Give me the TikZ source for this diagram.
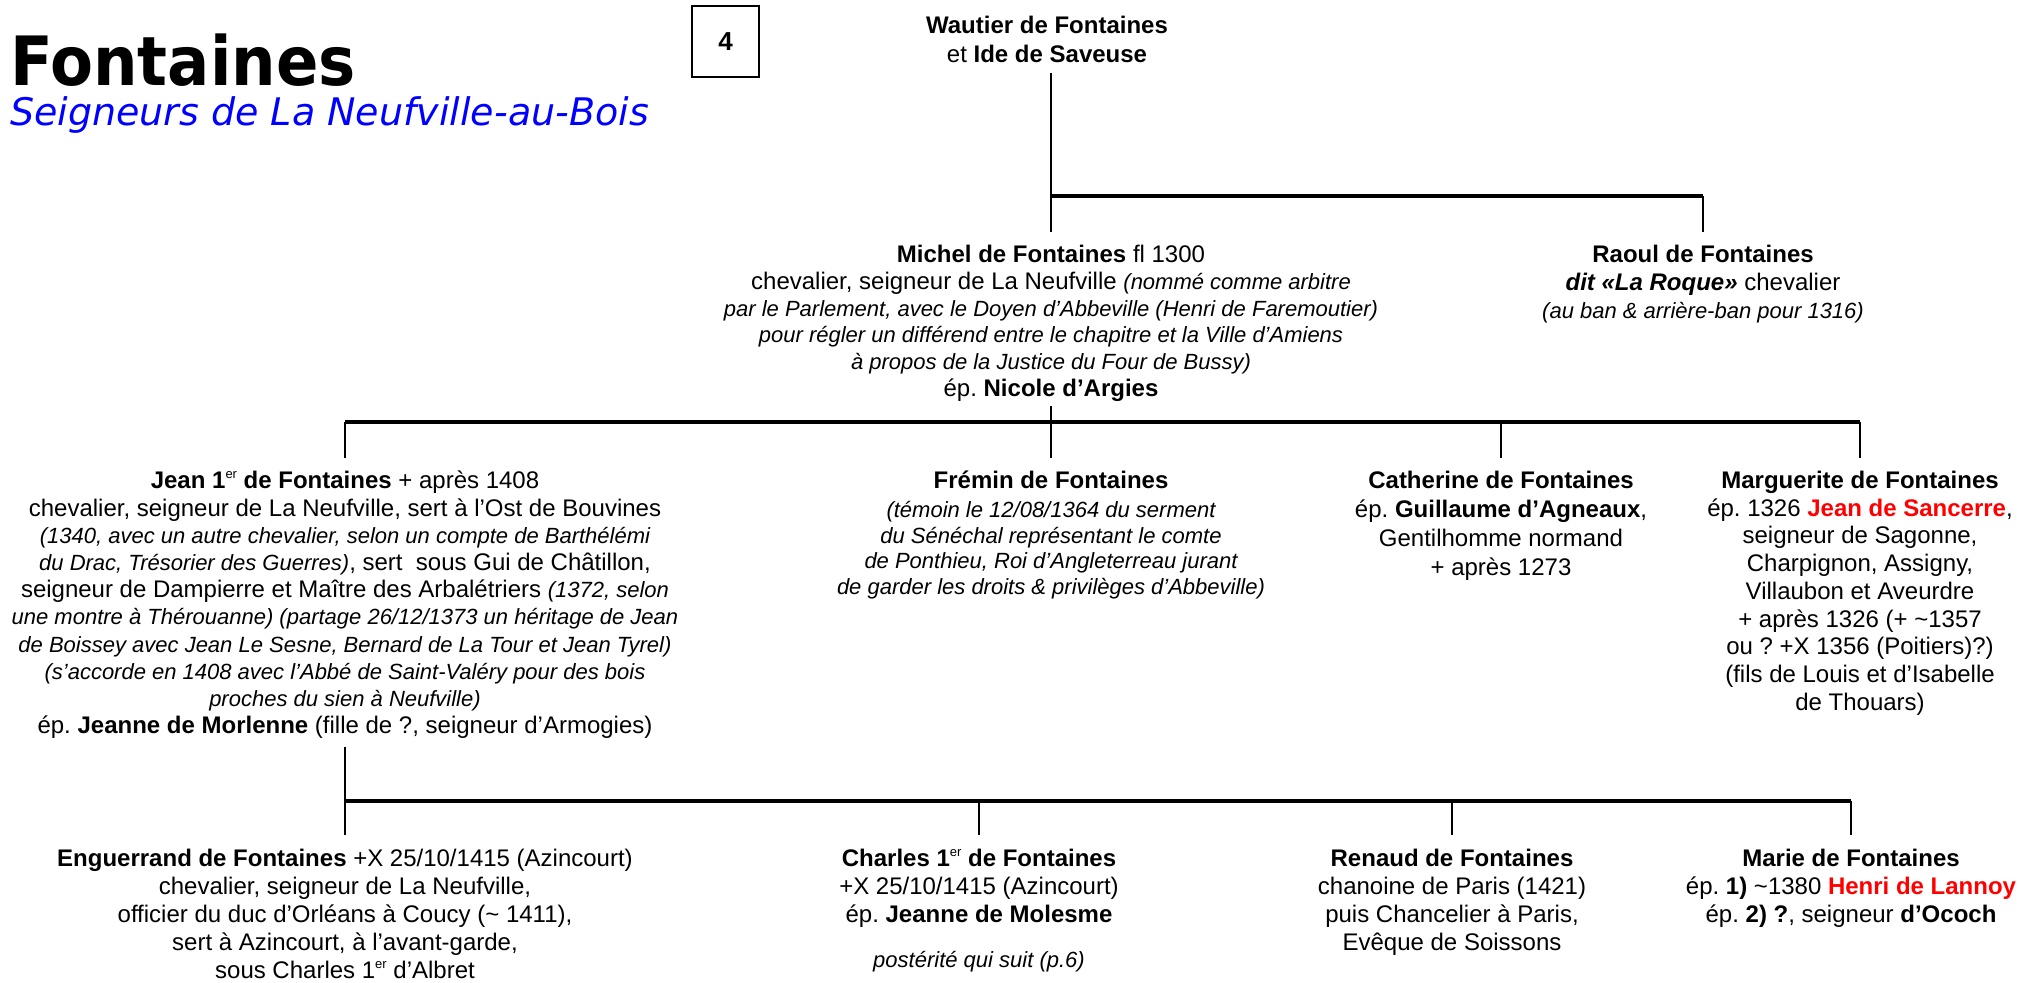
\documentclass[tikz,border=0pt]{standalone}
\usepackage{fontspec}
\setmainfont{Liberation Sans}
\newfontfamily\titlefont[FakeStretch=0.92]{DejaVu Sans}
\newfontfamily\subfont{DejaVu Sans}
\definecolor{sred}{RGB}{255,0,0}
\definecolor{sblue}{RGB}{0,0,255}
\frenchspacing
\newcommand\nt[1]{{\fontsize{22}{27.6}\selectfont\itshape #1}}
\newcommand\sred[1]{\textcolor{sred}{\textbf{#1}}}
\newcommand\ersup{\smash{\raisebox{10pt}{\fontsize{13}{13}\selectfont\mdseries er}}}
\tikzset{
  person/.style={align=center, inner sep=0pt, anchor=north, font=\fontsize{24}{27.6}\selectfont},
  hbar/.style={line width=3.3pt},
  drop/.style={line width=2.2pt},
}
\begin{document}
\begin{tikzpicture}[x=1pt,y=-1pt]
\useasboundingbox (0,0) rectangle (2020,982);
\fill[white] (0,0) rectangle (2020,982);

% title
\node[anchor=base west, inner sep=0pt, font=\titlefont\bfseries\fontsize{68}{70}\selectfont] (title) at (10,85) {Fontaines};
\node[anchor=base west, inner sep=0pt, text=sblue, font=\subfont\itshape\fontsize{38}{40}\selectfont] (sub) at (10,125) {Seigneurs de La Neufville-au-Bois};
\node[draw, line width=1.5pt, minimum width=67pt, minimum height=71pt, inner sep=0pt, font=\bfseries\fontsize{26}{28}\selectfont] (num) at (725.5,41.5) {4};

% generation 0
\node[person, font=\fontsize{24}{29}\selectfont] (wautier) at (1047,16) {\textbf{Wautier de Fontaines}\\et \textbf{Ide de Saveuse}};

% generation 1
\node[person, font=\fontsize{24}{26.8}\selectfont] (michel) at (1051,245) {\textbf{Michel de Fontaines} fl 1300\\
chevalier, seigneur de La Neufville \nt{(nommé comme arbitre}\\
\nt{par le Parlement, avec le Doyen d’Abbeville (Henri de Faremoutier)}\\
\nt{pour régler un différend entre le chapitre et la Ville d’Amiens}\\
\nt{à propos de la Justice du Four de Bussy)}\\
ép. \textbf{Nicole d’Argies}};

\node[person, font=\fontsize{24}{28}\selectfont] (raoul) at (1703,245) {\textbf{Raoul de Fontaines}\\
\textbf{\textit{dit «La Roque»}} chevalier\\
\nt{(au ban \& arrière-ban pour 1316)}};

% generation 2
\node[person, font=\fontsize{24}{27.2}\selectfont] (jean) at (345,471) {\textbf{Jean 1\ersup{} de Fontaines} + après 1408\\
chevalier, seigneur de La Neufville, sert à l’Ost de Bouvines\\
\nt{(1340, avec un autre chevalier, selon un compte de Barthélémi}\\
\nt{du Drac, Trésorier des Guerres)}, sert\ \ sous Gui de Châtillon,\\
seigneur de Dampierre et Maître des Arbalétriers \nt{(1372, selon}\\
\nt{une montre à Thérouanne) (partage 26/12/1373 un héritage de Jean}\\
\nt{de Boissey avec Jean Le Sesne, Bernard de La Tour et Jean Tyrel)}\\
\nt{(s’accorde en 1408 avec l’Abbé de Saint-Valéry pour des bois}\\
\nt{proches du sien à Neufville)}\\
ép. \textbf{Jeanne de Morlenne} (fille de ?, seigneur d’Armogies)};

\node[person, font=\fontsize{24}{25.6}\selectfont] (fremin) at (1051,471) {\textbf{Frémin de Fontaines}\\[3pt]
\nt{(témoin le 12/08/1364 du serment}\\
\nt{du Sénéchal représentant le comte}\\
\nt{de Ponthieu, Roi d’Angleterreau jurant}\\
\nt{de garder les droits \& privilèges d’Abbeville)}};

\node[person, font=\fontsize{24}{29}\selectfont] (catherine) at (1501,471) {\textbf{Catherine de Fontaines}\\
ép. \textbf{Guillaume d’Agneaux},\\
Gentilhomme normand\\
+ après 1273};

\node[person, font=\fontsize{24}{27.7}\selectfont] (marguerite) at (1860,471) {\textbf{Marguerite de Fontaines}\\
ép. 1326 \sred{Jean de Sancerre},\\
seigneur de Sagonne,\\
Charpignon, Assigny,\\
Villaubon et Aveurdre\\
+ après 1326 (+ \textasciitilde1357\\
ou ? +X 1356 (Poitiers)?)\\
(fils de Louis et d’Isabelle\\
de Thouars)};

% generation 3
\node[person, font=\fontsize{24}{28}\selectfont] (enguerrand) at (345,849) {\textbf{Enguerrand de Fontaines} +X 25/10/1415 (Azincourt)\\
chevalier, seigneur de La Neufville,\\
officier du duc d’Orléans à Coucy (\textasciitilde{} 1411),\\
sert à Azincourt, à l’avant-garde,\\
sous Charles 1\ersup{} d’Albret};

\node[person, font=\fontsize{24}{28}\selectfont] (charles) at (979,849) {\textbf{Charles 1\ersup{} de Fontaines}\\
+X 25/10/1415 (Azincourt)\\
ép. \textbf{Jeanne de Molesme}\\[17pt]
\nt{postérité qui suit (p.6)}};

\node[person, font=\fontsize{24}{28}\selectfont] (renaud) at (1452,849) {\textbf{Renaud de Fontaines}\\
chanoine de Paris (1421)\\
puis Chancelier à Paris,\\
Evêque de Soissons};

\node[person, font=\fontsize{24}{28}\selectfont] (marie) at (1851,849) {\textbf{Marie de Fontaines}\\
ép. \textbf{1)} \textasciitilde1380 \sred{Henri de Lannoy}\\
ép. \textbf{2) ?}, seigneur \textbf{d’Ococh}};

% connectors
\coordinate (b1) at (1051,196);
\coordinate (b1r) at (1703,196);
\draw[drop] ([yshift=-10pt]wautier.south -| b1) -- (b1);
\draw[hbar] (b1) -- (b1r);
\draw[drop] (b1) -- ([yshift=13pt]michel.north -| b1);
\draw[drop] (b1r) -- ([yshift=13pt]raoul.north);

\coordinate (b2) at (345,422);
\coordinate (b2r) at (1860,422);
\draw[drop] ([yshift=-4pt]michel.south) -- (michel.south |- b2);
\draw[hbar] (b2) -- (b2r);
\foreach \n in {jean,fremin,catherine,marguerite}
  \draw[drop] (\n.north |- b2) -- ([yshift=13pt]\n.north);

\coordinate (b3) at (345,801);
\coordinate (b3r) at (1851,801);
\draw[drop] ([yshift=-8pt]jean.south) -- (b3);
\draw[hbar] (b3) -- (b3r);
\foreach \n in {enguerrand,charles,renaud,marie}
  \draw[drop] (\n.north |- b3) -- ([yshift=14pt]\n.north);
\end{tikzpicture}
\end{document}
